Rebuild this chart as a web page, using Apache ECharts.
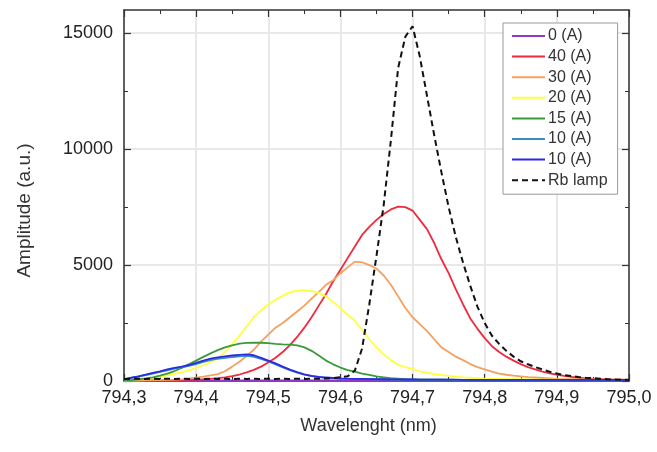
<!DOCTYPE html>
<html>
<head>
<meta charset="utf-8">
<script src="https://cdn.jsdelivr.net/npm/echarts@6/dist/echarts.min.js"></script>
<style>
  html, body { margin: 0; padding: 0; background: #fff; }
  #chart { width: 657px; height: 452px; }
</style>
</head>
<body>
<div id="chart"></div>
<script>
// Wavelength grid (nm), 794.30 .. 795.00 in 0.01 nm steps
const wavelength = [
  794.30, 794.31, 794.32, 794.33, 794.34, 794.35, 794.36, 794.37, 794.38, 794.39,
  794.40, 794.41, 794.42, 794.43, 794.44, 794.45, 794.46, 794.47, 794.48, 794.49,
  794.50, 794.51, 794.52, 794.53, 794.54, 794.55, 794.56, 794.57, 794.58, 794.59,
  794.60, 794.61, 794.62, 794.63, 794.64, 794.65, 794.66, 794.67, 794.68, 794.69,
  794.70, 794.71, 794.72, 794.73, 794.74, 794.75, 794.76, 794.77, 794.78, 794.79,
  794.80, 794.81, 794.82, 794.83, 794.84, 794.85, 794.86, 794.87, 794.88, 794.89,
  794.90, 794.91, 794.92, 794.93, 794.94, 794.95, 794.96, 794.97, 794.98, 794.99,
  795.00
];

// Amplitude (a.u.) per discharge current
const amp0A = [
  30, 30, 30, 30, 30, 30, 30, 30, 30, 30,
  30, 30, 30, 30, 30, 30, 30, 30, 30, 30,
  30, 30, 30, 30, 30, 30, 30, 30, 30, 30,
  30, 30, 30, 30, 30, 30, 30, 30, 30, 30,
  30, 30, 30, 30, 30, 30, 30, 30, 30, 30,
  30, 30, 30, 30, 30, 30, 30, 30, 30, 30,
  30, 30, 30, 30, 30, 30, 30, 30, 30, 30,
  30
];
const amp40A = [
  5, 8, 10, 15, 20, 25, 30, 40, 50, 60,
  65, 75, 95, 120, 160, 210, 280, 370, 480, 620,
  800, 1000, 1250, 1550, 1900, 2300, 2750, 3250, 3750, 4300,
  4800, 5300, 5800, 6300, 6650, 6950, 7200, 7400, 7520, 7500,
  7350, 6950, 6550, 5950, 5250, 4650, 3950, 3300, 2700, 2250,
  1850, 1500, 1250, 1050, 880, 730, 600, 500, 400, 330,
  270, 220, 180, 140, 110, 90, 80, 70, 60, 60,
  50
];
const amp30A = [
  10, 15, 20, 25, 35, 40, 50, 55, 70, 110,
  150, 190, 240, 300, 420, 620, 830, 1080, 1350, 1700,
  2000, 2300, 2500, 2750, 3000, 3250, 3550, 3830, 4150, 4350,
  4650, 4900, 5150, 5120, 5000, 4850, 4550, 4150, 3650, 3150,
  2750, 2450, 2150, 1800, 1450, 1250, 1050, 900, 730, 600,
  500, 400, 320, 270, 230, 200, 170, 150, 130, 110,
  90, 85, 80, 75, 70, 65, 60, 55, 55, 50,
  50
];
const amp20A = [
  20, 40, 70, 100, 130, 180, 240, 310, 380, 460,
  560, 680, 820, 960, 1250, 1600, 1950, 2350, 2750, 3050,
  3300, 3500, 3680, 3820, 3900, 3920, 3880, 3800, 3650, 3400,
  3150, 2850, 2600, 2200, 1800, 1450, 1150, 900, 700, 600,
  520, 420, 360, 300, 260, 220, 190, 160, 140, 120,
  100, 95, 90, 85, 80, 75, 70, 65, 60, 60,
  55, 55, 50, 50, 50, 50, 50, 50, 50, 50,
  50
];
const amp15A = [
  20, 40, 70, 110, 160, 230, 320, 430, 560, 720,
  880, 1040, 1190, 1330, 1450, 1540, 1610, 1640, 1650, 1650,
  1630, 1600, 1580, 1570, 1540, 1450, 1300, 1100, 880, 720,
  580, 470, 400, 320, 260, 200, 160, 120, 100, 80,
  70, 60, 60, 55, 55, 50, 50, 50, 50, 50,
  50, 50, 50, 50, 50, 50, 50, 50, 50, 50,
  50, 50, 50, 50, 50, 50, 50, 50, 50, 50,
  50
];
const amp10A = [
  70, 130, 190, 250, 320, 390, 460, 530, 590, 650,
  730, 820, 900, 960, 1000, 1030, 1060, 1080, 1040, 950,
  840, 720, 590, 470, 360, 280, 210, 170, 140, 120,
  100, 95, 90, 85, 80, 75, 70, 70, 65, 65,
  60, 60, 60, 55, 55, 55, 50, 50, 50, 50,
  50, 50, 50, 50, 50, 50, 50, 50, 50, 50,
  50, 50, 50, 50, 50, 50, 50, 50, 50, 50,
  50
];
const amp10Ab = [
  80, 140, 200, 270, 350, 420, 500, 570, 620, 690,
  780, 880, 960, 1020, 1060, 1100, 1130, 1150, 1110, 1000,
  880, 760, 620, 490, 380, 290, 220, 180, 150, 130,
  110, 100, 95, 90, 85, 80, 75, 70, 70, 65,
  65, 60, 60, 60, 55, 55, 55, 50, 50, 50,
  50, 50, 50, 50, 50, 50, 50, 50, 50, 50,
  50, 50, 50, 50, 50, 50, 50, 50, 50, 50,
  50
];
const ampRbLamp = [
  90, 90, 95, 90, 95, 90, 95, 90, 95, 90,
  95, 90, 95, 90, 95, 90, 95, 90, 95, 90,
  95, 90, 95, 90, 95, 90, 95, 100, 110, 130,
  160, 200, 450, 1400, 3300, 5400, 7600, 10400, 13500, 14850,
  15300, 14000, 12300, 10600, 9000, 7500, 6200, 5100, 4100, 3200,
  2500, 1950, 1600, 1300, 1050, 850, 720, 600, 500, 400,
  320, 260, 210, 170, 140, 120, 100, 80, 60, 50,
  50
];

// Axis tick values
const xTicks = [794.3, 794.4, 794.5, 794.6, 794.7, 794.8, 794.9, 795.0];
const yTicks = [0, 5000, 10000, 15000];

const seriesNames = ['0 (A)', '40 (A)', '30 (A)', '20 (A)', '15 (A)', '10 (A)', '10 (A) ', 'Rb lamp'];
const seriesValues = [amp0A, amp40A, amp30A, amp20A, amp15A, amp10A, amp10Ab, ampRbLamp];
const seriesColors = ['#9038c8', '#f02a3e', '#f4a060', '#ffff3c', '#3a9a3a', '#3a8cc4', '#2a2ade', '#111111'];

const FONT = 'Liberation Sans, Arial, sans-serif';
const AXIS_COLOR = '#333';

const series = seriesNames.map((name, i) => ({
  name: name,
  type: 'line',
  xAxisIndex: 0,
  yAxisIndex: 0,
  symbol: 'none',
  smooth: false,
  data: wavelength.map((w, k) => [w, seriesValues[i][k]]),
  lineStyle: {
    color: seriesColors[i],
    width: name === 'Rb lamp' ? 2 : 1.8,
    type: name === 'Rb lamp' ? [6, 4] : 'solid'
  },
  itemStyle: { color: seriesColors[i] },
  emphasis: { disabled: true },
  z: 2 + i
}));

const commonX = {
  type: 'value',
  min: xTicks[0],
  max: xTicks[xTicks.length - 1],
  interval: 0.1,
  axisLine: { show: true, onZero: false, lineStyle: { color: AXIS_COLOR, width: 1.5 } },
  axisTick: { show: true, inside: true, length: 7, lineStyle: { color: AXIS_COLOR, width: 1.2 } },
  minorTick: { show: true, splitNumber: 2, length: 4, lineStyle: { color: AXIS_COLOR, width: 1 } }
};
const commonY = {
  type: 'value',
  min: 0,
  max: 16000,
  interval: 5000,
  axisLine: { show: true, onZero: false, lineStyle: { color: AXIS_COLOR, width: 1.5 } },
  axisTick: { show: true, inside: true, length: 7, lineStyle: { color: AXIS_COLOR, width: 1.2 },
              customValues: yTicks },
  minorTick: { show: true, splitNumber: 2, length: 4, lineStyle: { color: AXIS_COLOR, width: 1 } }
};

const chart = echarts.init(document.getElementById('chart'), null, { renderer: 'canvas' });
chart.setOption({
  animation: false,
  backgroundColor: '#fff',
  textStyle: { fontFamily: FONT },
  grid: { left: 124, right: 28, top: 10, bottom: 71 },
  legend: {
    data: seriesNames,
    orient: 'vertical',
    left: 503,
    top: 23,
    padding: [5, 10, 6, 8],
    itemWidth: 33,
    itemHeight: 14,
    itemGap: 4.6,
    borderColor: '#999',
    borderWidth: 1,
    borderRadius: 0,
    backgroundColor: '#fff',
    itemStyle: { opacity: 0 },
    textStyle: { fontFamily: FONT, fontSize: 16, lineHeight: 16, color: '#333', padding: [0, 0, 0, -2] },
    formatter: (n) => n.trim()
  },
  xAxis: [
    Object.assign({}, commonX, {
      position: 'bottom',
      name: 'Wavelenght (nm)',
      nameLocation: 'middle',
      nameGap: 36,
      nameTextStyle: { fontFamily: FONT, fontSize: 18, color: '#333', padding: [0, 16, 0, 0] },
      axisLabel: {
        show: true, margin: 8, fontSize: 18, color: '#222', fontFamily: FONT,
        formatter: (v) => v.toFixed(1).replace('.', ',')
      },
      splitLine: { show: true, lineStyle: { color: '#e8e8e8', width: 2 } }
    }),
    Object.assign({}, commonX, {
      position: 'top',
      axisLabel: { show: false },
      splitLine: { show: false }
    })
  ],
  yAxis: [
    Object.assign({}, commonY, {
      position: 'left',
      name: 'Amplitude (a.u.)',
      nameLocation: 'middle',
      nameGap: 90,
      nameTextStyle: { fontFamily: FONT, fontSize: 19, color: '#333', padding: [0, 30, 0, 0] },
      axisLabel: {
        show: true, margin: 11, fontSize: 18, color: '#222', fontFamily: FONT,
        customValues: yTicks,
        formatter: (v) => String(v)
      },
      splitLine: { show: true, lineStyle: { color: '#e8e8e8', width: 2 } }
    }),
    Object.assign({}, commonY, {
      position: 'right',
      axisLabel: { show: false },
      splitLine: { show: false }
    })
  ],
  series: series
});
</script>
</body>
</html>
